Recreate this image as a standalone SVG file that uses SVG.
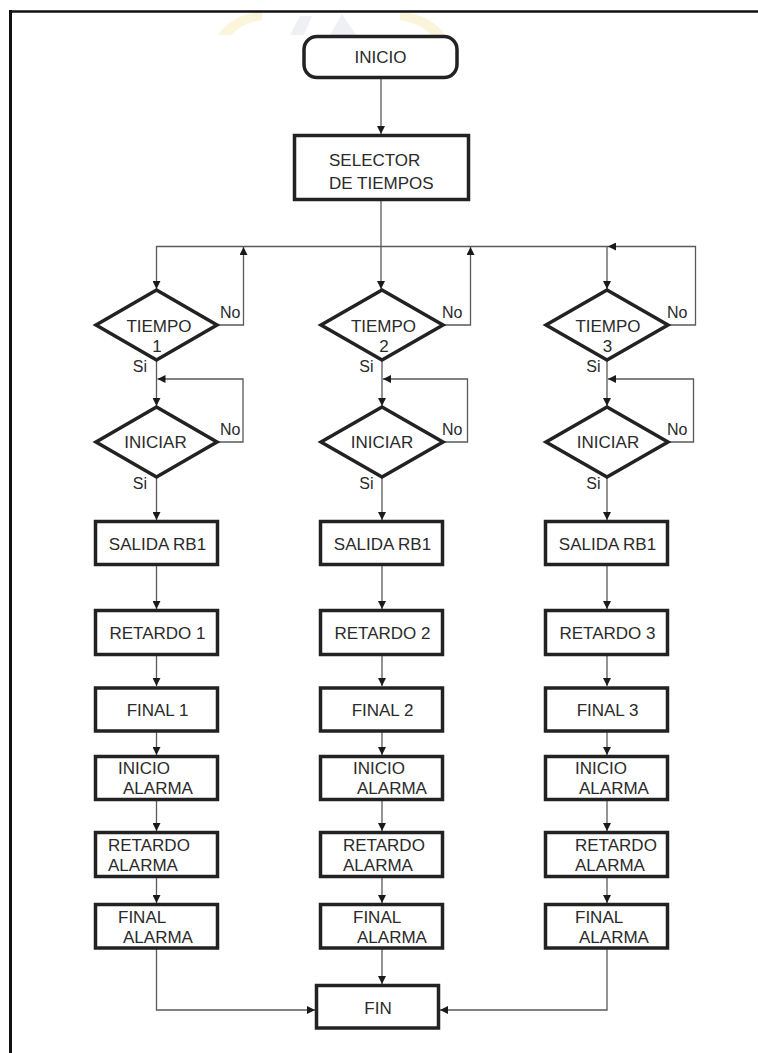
<svg xmlns="http://www.w3.org/2000/svg" width="758" height="1053" viewBox="0 0 758 1053">
<style>
.t{font-family:"Liberation Sans",Arial,sans-serif;font-size:17px;fill:#2a2a2a}
.c{text-anchor:middle}
.l{font-family:"Liberation Sans",Arial,sans-serif;font-size:16px;fill:#2a2a2a}
.box{fill:#fff;stroke:#222;stroke-width:3.5}
.dia{fill:#fff;stroke:#222;stroke-width:3.5;stroke-linejoin:miter}
.cn{fill:none;stroke:#5a5a5a;stroke-width:1.3}
.a{marker-end:url(#arr)}
</style>
<defs>
<marker id="arr" viewBox="0 0 10 10" refX="10" refY="5" markerUnits="userSpaceOnUse" markerWidth="9" markerHeight="8" orient="auto">
<path d="M0,0 L10,5 L0,10 z" fill="#1a1a1a"/>
</marker>
</defs>
<rect x="0" y="0" width="758" height="1053" fill="#fff"/>
<g id="watermark" opacity="0.3">
<path d="M218,35 Q230,16 262,11 L262,20 Q240,24 232,35 z" fill="#f1de8a"/>
<path d="M445,35 Q433,16 400,11 L400,20 Q422,24 431,35 z" fill="#f1de8a"/>
<path d="M290,35 L300,16 L312,16 L304,35 z M330,35 L342,14 L356,35 z" fill="#c9cfdc"/>
</g>
<g id="frame">
<line x1="10.5" y1="10" x2="10.5" y2="1053" stroke="#111" stroke-width="3"/>
<line x1="9" y1="11.5" x2="758" y2="11.5" stroke="#111" stroke-width="2.5"/>
</g>
<g id="connectors">
<path class="cn a" d="M381,79 V134"/>
<path class="cn a" d="M381,201 V289"/>
<path class="cn a" d="M608,246.5 H156.5 V289"/>
<path class="cn a" d="M607,246.5 V289"/>
<path class="cn a" d="M217,325 H243.5 V247"/>
<path class="cn a" d="M443,325 H470.5 V247"/>
<path class="cn a" d="M668,325 H695.5 V246.5 H608"/>
<path class="cn a" d="M156.5,360 V406"/>
<path class="cn a" d="M382,360 V406"/>
<path class="cn a" d="M607,360 V406"/>
<path class="cn a" d="M217,442 H243 V379 H157.5"/>
<path class="cn a" d="M443,442 H467.5 V379 H383"/>
<path class="cn a" d="M668,442 H693.5 V379 H608"/>
<path class="cn a" d="M156.5,477 V520"/>
<path class="cn a" d="M382,477 V520"/>
<path class="cn a" d="M607,477 V520"/>
<path class="cn a" d="M156.5,566 V609"/>
<path class="cn a" d="M382,566 V609"/>
<path class="cn a" d="M607,566 V609"/>
<path class="cn a" d="M156.5,656 V686"/>
<path class="cn a" d="M382,656 V686"/>
<path class="cn a" d="M607,656 V686"/>
<path class="cn a" d="M156.5,732 V755"/>
<path class="cn a" d="M382,732 V755"/>
<path class="cn a" d="M607,732 V755"/>
<path class="cn a" d="M156.5,801 V831"/>
<path class="cn a" d="M382,801 V831"/>
<path class="cn a" d="M607,801 V831"/>
<path class="cn a" d="M156.5,878 V903"/>
<path class="cn a" d="M382,878 V903"/>
<path class="cn a" d="M607,878 V903"/>
<path class="cn a" d="M156.5,949 V1010 H315"/>
<path class="cn a" d="M382,949 V984"/>
<path class="cn a" d="M607,949 V1010 H440"/>
</g>
<g id="inicio">
<rect x="304" y="36.5" width="153" height="41" rx="13" class="box" stroke-width="3"/>
<text x="380.5" y="63" class="t c">INICIO</text>
</g>
<g id="selector">
<rect x="294.5" y="135.5" width="174" height="64" class="box"/>
<text x="329" y="166" class="t">SELECTOR</text>
<text x="329" y="189" class="t">DE TIEMPOS</text>
</g>
<g id="tiempo1">
<polygon points="156.5,290 217,325 156.5,360 96,325" class="dia"/>
<text x="159" y="331.5" class="t c">TIEMPO</text>
<text x="157" y="351.5" class="t c">1</text>
<text x="220" y="318" class="l">No</text>
<text x="147" y="372" class="l" text-anchor="end">Si</text>
</g>
<g id="tiempo2">
<polygon points="382,290 443,325 382,360 321,325" class="dia"/>
<text x="383.5" y="331.5" class="t c">TIEMPO</text>
<text x="384" y="351.5" class="t c">2</text>
<text x="442" y="318" class="l">No</text>
<text x="373.5" y="372" class="l" text-anchor="end">Si</text>
</g>
<g id="tiempo3">
<polygon points="607,290 668,325 607,360 546,325" class="dia"/>
<text x="608" y="331.5" class="t c">TIEMPO</text>
<text x="607.5" y="351.5" class="t c">3</text>
<text x="667" y="318" class="l">No</text>
<text x="600.5" y="372" class="l" text-anchor="end">Si</text>
</g>
<g id="iniciar1">
<polygon points="156.5,407 217,442 156.5,477 96,442" class="dia"/>
<text x="155.5" y="448" class="t c">INICIAR</text>
<text x="220" y="435" class="l">No</text>
<text x="147" y="489" class="l" text-anchor="end">Si</text>
</g>
<g id="iniciar2">
<polygon points="382,407 443,442 382,477 321,442" class="dia"/>
<text x="382" y="448" class="t c">INICIAR</text>
<text x="442" y="435" class="l">No</text>
<text x="373.5" y="489" class="l" text-anchor="end">Si</text>
</g>
<g id="iniciar3">
<polygon points="607,407 668,442 607,477 546,442" class="dia"/>
<text x="608" y="448" class="t c">INICIAR</text>
<text x="667" y="435" class="l">No</text>
<text x="600.5" y="489" class="l" text-anchor="end">Si</text>
</g>
<g id="salida1"><rect x="95.5" y="521.5" width="122" height="43" class="box"/><text x="157.5" y="550" class="t c">SALIDA RB1</text></g>
<g id="salida2"><rect x="320.5" y="521.5" width="122" height="43" class="box"/><text x="382.5" y="550" class="t c">SALIDA RB1</text></g>
<g id="salida3"><rect x="545.5" y="521.5" width="122" height="43" class="box"/><text x="607.5" y="550" class="t c">SALIDA RB1</text></g>
<g id="retardo1"><rect x="95.5" y="610.5" width="122" height="44" class="box"/><text x="157.5" y="639" class="t c">RETARDO 1</text></g>
<g id="retardo2"><rect x="320.5" y="610.5" width="122" height="44" class="box"/><text x="382.5" y="639" class="t c">RETARDO 2</text></g>
<g id="retardo3"><rect x="545.5" y="610.5" width="122" height="44" class="box"/><text x="607.5" y="639" class="t c">RETARDO 3</text></g>
<g id="final1"><rect x="95.5" y="688" width="122" height="43" class="box"/><text x="157.5" y="716" class="t c">FINAL 1</text></g>
<g id="final2"><rect x="320.5" y="688" width="122" height="43" class="box"/><text x="382.5" y="716" class="t c">FINAL 2</text></g>
<g id="final3"><rect x="545.5" y="688" width="122" height="43" class="box"/><text x="607.5" y="716" class="t c">FINAL 3</text></g>
<g id="inicioalarma1"><rect x="95.5" y="756.5" width="122" height="43" class="box"/><text x="118" y="774" class="t">INICIO</text><text x="123" y="794" class="t">ALARMA</text></g>
<g id="inicioalarma2"><rect x="320.5" y="756.5" width="122" height="43" class="box"/><text x="353" y="774" class="t">INICIO</text><text x="357" y="794" class="t">ALARMA</text></g>
<g id="inicioalarma3"><rect x="545.5" y="756.5" width="122" height="43" class="box"/><text x="575" y="774" class="t">INICIO</text><text x="579" y="794" class="t">ALARMA</text></g>
<g id="retardoalarma1"><rect x="95.5" y="832.5" width="122" height="44" class="box"/><text x="108" y="851" class="t">RETARDO</text><text x="108" y="871" class="t">ALARMA</text></g>
<g id="retardoalarma2"><rect x="320.5" y="832.5" width="122" height="44" class="box"/><text x="343" y="851" class="t">RETARDO</text><text x="343" y="871" class="t">ALARMA</text></g>
<g id="retardoalarma3"><rect x="545.5" y="832.5" width="122" height="44" class="box"/><text x="575" y="851" class="t">RETARDO</text><text x="575" y="871" class="t">ALARMA</text></g>
<g id="finalalarma1"><rect x="95.5" y="904.5" width="122" height="43.5" class="box"/><text x="118" y="923" class="t">FINAL</text><text x="123" y="943" class="t">ALARMA</text></g>
<g id="finalalarma2"><rect x="320.5" y="904.5" width="122" height="43.5" class="box"/><text x="353" y="923" class="t">FINAL</text><text x="357" y="943" class="t">ALARMA</text></g>
<g id="finalalarma3"><rect x="545.5" y="904.5" width="122" height="43.5" class="box"/><text x="575" y="923" class="t">FINAL</text><text x="579" y="943" class="t">ALARMA</text></g>
<g id="fin"><rect x="316.5" y="985.5" width="122" height="42.5" class="box"/><text x="378" y="1014" class="t c">FIN</text></g>
</svg>
